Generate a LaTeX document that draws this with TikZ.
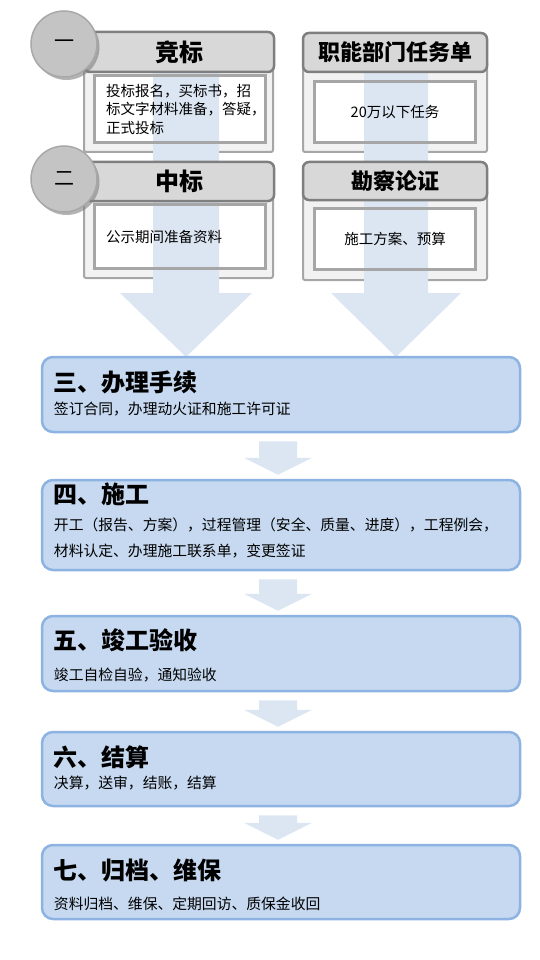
\documentclass[tikz,border=0pt]{standalone}
\usepackage{fontspec}
\usepackage{tikz}
\usetikzlibrary{positioning,calc,shadows}
\newfontfamily\cjk{Noto Sans CJK SC}
\definecolor{stagecol}{RGB}{198,217,240}
\definecolor{stageborder}{RGB}{141,179,226}
\definecolor{flowcol}{RGB}{220,230,242}
\definecolor{hdrcol}{RGB}{216,216,216}
\definecolor{hdrborder}{RGB}{127,127,127}
\definecolor{panelcol}{RGB}{242,242,242}
\definecolor{panelborder}{RGB}{166,166,166}
\definecolor{disccol}{RGB}{196,196,196}
\definecolor{discborder}{RGB}{168,168,168}

\begin{document}
\begin{tikzpicture}[
                x=1pt, y=-1pt,
                font=\cjk,
                stagebox/.style={rectangle, rounded corners=11pt, draw=stageborder, line width=2.5pt, fill=stagecol, minimum width=478pt},
                stagetitle/.style={anchor=west, inner sep=0pt, font=\cjk\bfseries\fontsize{24}{28}\selectfont},
                stagetext/.style={anchor=west, inner sep=0pt, align=left, font=\cjk\fontsize{14.8}{26}\selectfont},
                panel/.style={rectangle, rounded corners=2pt, draw=panelborder, line width=2pt, fill=panelcol},
                inbox/.style={rectangle, fill=white, inner sep=0pt},
                inline/.style={draw=panelborder, line width=3pt},
                intext/.style={font=\cjk\fontsize{14.5}{18.5}\selectfont},
                hdr/.style={rectangle, rounded corners=6pt, draw=hdrborder, line width=2.5pt, fill=hdrcol, font=\cjk\bfseries\fontsize{24}{28}\selectfont},
                disc/.style={circle, minimum size=66pt, inner sep=0pt, fill=disccol, draw=discborder, line width=1.5pt, font=\cjk\fontsize{20}{24}\selectfont,
                        drop shadow={shadow xshift=2.5pt, shadow yshift=-3pt, fill=black!50, opacity=0.6}},
                flow/.style={fill=flowcol}
                ]
                \useasboundingbox (0,0) rectangle (540,960);

                % top left and top right columns
                \node[panel, minimum width=189pt, minimum height=92pt] (panA) at (178.5,106) {};
                \node[panel, minimum width=189pt, minimum height=88pt] (panB) at (178.5,234) {};
                \node[panel, minimum width=184pt, minimum height=92pt] (panC) at (395,106) {};
                \node[panel, minimum width=184pt, minimum height=90pt] (panD) at (395,235) {};
                \node[inbox, minimum width=170pt, minimum height=66pt] (inA) at (180,109) {};
                \node[inbox, minimum width=170pt, minimum height=63pt] (inB) at (180,236.5) {};
                \node[inbox, minimum width=160pt, minimum height=60pt] (inC) at (395,112) {};
                \node[inbox, minimum width=160pt, minimum height=60pt] (inD) at (395,239) {};

                % big arrows down to stage three
                \fill[flow] (153,60) -- (219,60) -- (219,293) -- (252,293) -- (186,357) -- (120,293) -- (153,293) -- cycle;
                \fill[flow] (364,60) -- (428,60) -- (428,293) -- (461,293) -- (396,357) -- (331,293) -- (364,293) -- cycle;

                \foreach \b in {inA,inB,inC,inD}
                    \draw[inline] (\b.north west) rectangle (\b.south east);

                \node[hdr, minimum width=190pt, minimum height=40pt] (hA) at (179,52) {竞标};
                \node[hdr, minimum width=190pt, minimum height=39pt] (hB) at (179,181.5) {中标};
                \node[hdr, minimum width=184pt, minimum height=39pt, font=\cjk\bfseries\fontsize{22}{26}\selectfont] (hC) at (395,52.5) {职能部门任务单};
                \node[hdr, minimum width=184pt, minimum height=38pt, font=\cjk\bfseries\fontsize{22}{26}\selectfont] (hD) at (395,181) {勘察论证};

                \node[intext, text width=148pt, align=left] (tA) at (inA) {投标报名，买标书，招\\标文字材料准备，答疑，\\正式投标};
                \node[intext, text width=148pt, align=left] (tB) at (inB) {公示期间准备资料};
                \node[intext] (tC) at (inC) {20万以下任务};
                \node[intext] (tD) at (inD) {施工方案、预算};

                \node[disc] (d1) at (64,44) {一};
                \node[disc] (d2) at (64,179) {二};

                % stages
                \node[stagebox, minimum height=75pt] (s3) at (281,394.5) {};
                \node[stagebox, minimum height=90pt] (s4) at (281,525) {};
                \node[stagebox, minimum height=75pt] (s5) at (281,653.5) {};
                \node[stagebox, minimum height=74pt] (s6) at (281,769) {};
                \node[stagebox, minimum height=74pt] (s7) at (281,882) {};

                \node[stagetitle] (s3t) at ($(s3.north west)+(13,27)$) {三、办理手续};
                \node[stagetext] (s3b) at ($(s3.north west)+(13,53)$) {签订合同，办理动火证和施工许可证};
                \node[stagetitle] (s4t) at ($(s4.north west)+(13,16)$) {四、施工};
                \node[stagetext] (s4b) at ($(s4.north west)+(13,59)$) {开工（报告、方案），过程管理（安全、质量、进度），工程例会，\\材料认定、办理施工联系单，变更签证};
                \node[stagetitle] (s5t) at ($(s5.north west)+(13,26)$) {五、竣工验收};
                \node[stagetext] (s5b) at ($(s5.north west)+(13,60)$) {竣工自检自验，通知验收};
                \node[stagetitle] (s6t) at ($(s6.north west)+(13,27)$) {六、结算};
                \node[stagetext] (s6b) at ($(s6.north west)+(13,52)$) {决算，送审，结账，结算};
                \node[stagetitle] (s7t) at ($(s7.north west)+(13,27)$) {七、归档、维保};
                \node[stagetext] (s7b) at ($(s7.north west)+(13,60)$) {资料归档、维保、定期回访、质保金收回};

                % small arrows between stages
                \foreach \a/\b in {s3/s4,s4/s5,s5/s6,s6/s7}
                    \fill[flow] let \p1=(\a.south), \p2=(\b.north) in
                        (\x1-22pt,\y1-8pt) -- (\x1+16pt,\y1-8pt) -- (\x1+16pt,\y2+21pt) -- (\x1+31pt,\y2+21pt)
                        -- (\x1-3pt,\y2+4pt) -- (\x1-37pt,\y2+21pt) -- (\x1-22pt,\y2+21pt) -- cycle;
            \end{tikzpicture}
\end{document}
